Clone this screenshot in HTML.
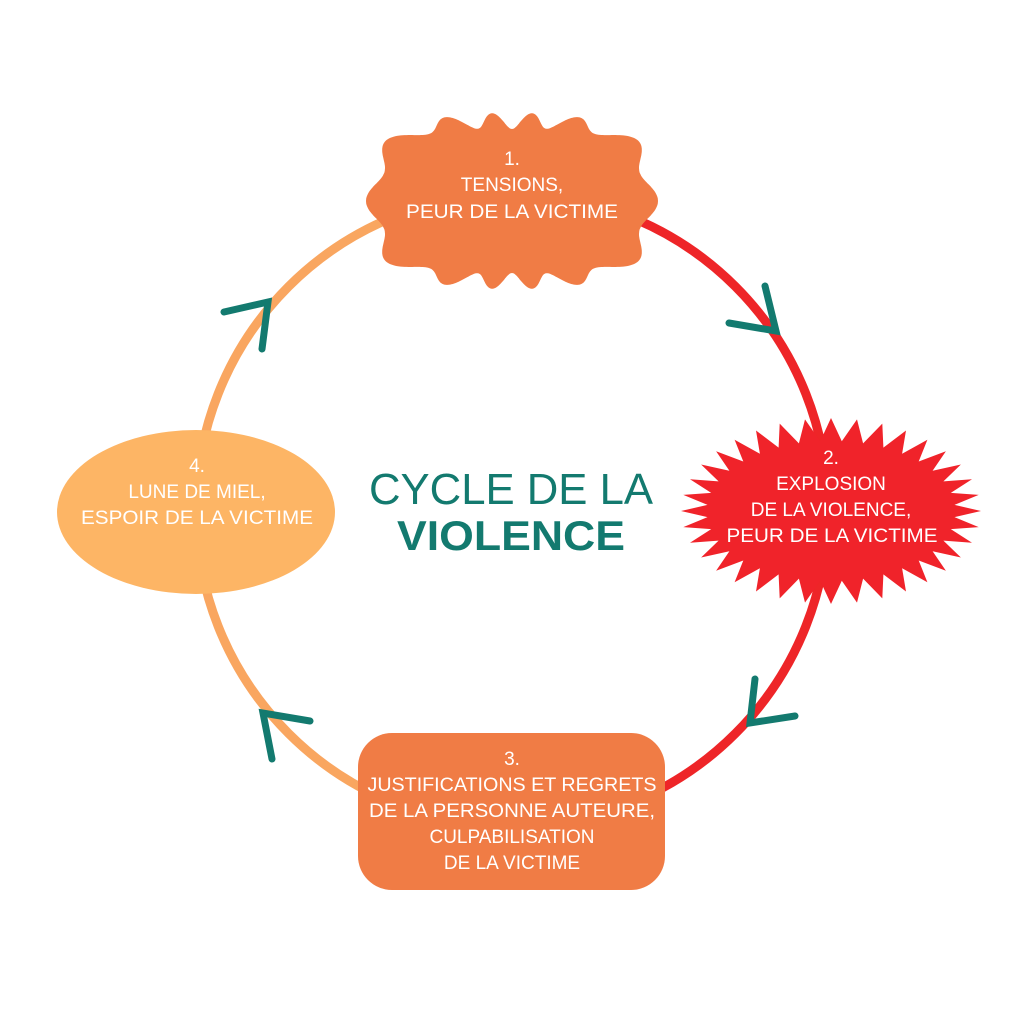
<!DOCTYPE html>
<html><head><meta charset="utf-8"><style>
html,body{margin:0;padding:0;background:#fff}
svg{display:block}
text{font-family:"Liberation Sans",sans-serif;}
</style></head><body>
<svg id="s" width="1024" height="1024" viewBox="0 0 1024 1024" xmlns="http://www.w3.org/2000/svg">
<rect width="1024" height="1024" fill="#fff"/>
<path d="M512 194 A316 316 0 0 1 512 826" fill="none" stroke="#EE2528" stroke-width="9"/>
<path d="M512 826 A316 316 0 0 1 512 194" fill="none" stroke="#F9A660" stroke-width="9"/>
<path id="blob" fill="#F07C45"/>
<path id="star" fill="#F0232A"/>
<rect x="358" y="733" width="307" height="157" rx="34" fill="#F07C45"/>
<ellipse cx="196" cy="512" rx="139" ry="82" fill="#FDB565"/>
<g stroke="#137A6F" stroke-width="7" stroke-linecap="round" fill="none">
<polyline points="224,312 268,302 262,349"/>
<polyline points="765,286 776,331 729,323"/>
<polyline points="755,679 750,723 795,716"/>
<polyline points="310,721 263,713 272,759"/>
</g>
<g fill="#137A6F" text-anchor="middle">
<text x="511" y="504" font-size="44" textLength="284" lengthAdjust="spacingAndGlyphs">CYCLE DE LA</text>
<text x="511" y="550" font-size="42" font-weight="bold" textLength="228" lengthAdjust="spacingAndGlyphs">VIOLENCE</text>
</g>
<g fill="#fff" text-anchor="middle" font-size="19">
<text x="512" y="165">1.</text>
<text x="512" y="191">TENSIONS,</text>
<text x="512" y="218" textLength="212" lengthAdjust="spacingAndGlyphs">PEUR DE LA VICTIME</text>
<text x="831" y="464">2.</text>
<text x="831" y="490">EXPLOSION</text>
<text x="831" y="516">DE LA VIOLENCE,</text>
<text x="832" y="542" textLength="211" lengthAdjust="spacingAndGlyphs">PEUR DE LA VICTIME</text>
<text x="197" y="472">4.</text>
<text x="197" y="498">LUNE DE MIEL,</text>
<text x="197" y="524" textLength="232" lengthAdjust="spacingAndGlyphs">ESPOIR DE LA VICTIME</text>
<text x="512" y="765">3.</text>
<text x="512" y="791" textLength="289" lengthAdjust="spacingAndGlyphs">JUSTIFICATIONS ET REGRETS</text>
<text x="512" y="817" textLength="286" lengthAdjust="spacingAndGlyphs">DE LA PERSONNE AUTEURE,</text>
<text x="512" y="843">CULPABILISATION</text>
<text x="512" y="869">DE LA VICTIME</text>
</g>
</svg>
<script>
(function(){
  var cx=831,cy=511,n=36,d='';
  for(var i=0;i<n*2;i++){
    var a=Math.PI*i/n; var o=i%2==0;
    var rx=o?150:124, ry=o?93:70;
    var x=cx+rx*Math.cos(a), y=cy+ry*Math.sin(a);
    d+=(i?'L':'M')+x.toFixed(1)+' '+y.toFixed(1);
  }
  document.getElementById('star').setAttribute('d',d+'Z');
  var bx=512,by=201,ax=138,ay=80,p=3,m=720,db='';
  for(var j=0;j<m;j++){
    var t=2*Math.PI*j/m, c=Math.cos(t), s=Math.sin(t);
    // polar radius of superellipse
    var r=1/Math.pow(Math.pow(Math.abs(c)/ax,p)+Math.pow(Math.abs(s)/ay,p),1/p);
    r+=8*Math.cos(14*t);
    var x=bx+r*c, y=by+r*s;
    db+=(j?'L':'M')+x.toFixed(1)+' '+y.toFixed(1);
  }
  document.getElementById('blob').setAttribute('d',db+'Z');
})();
</script>
</body></html>
